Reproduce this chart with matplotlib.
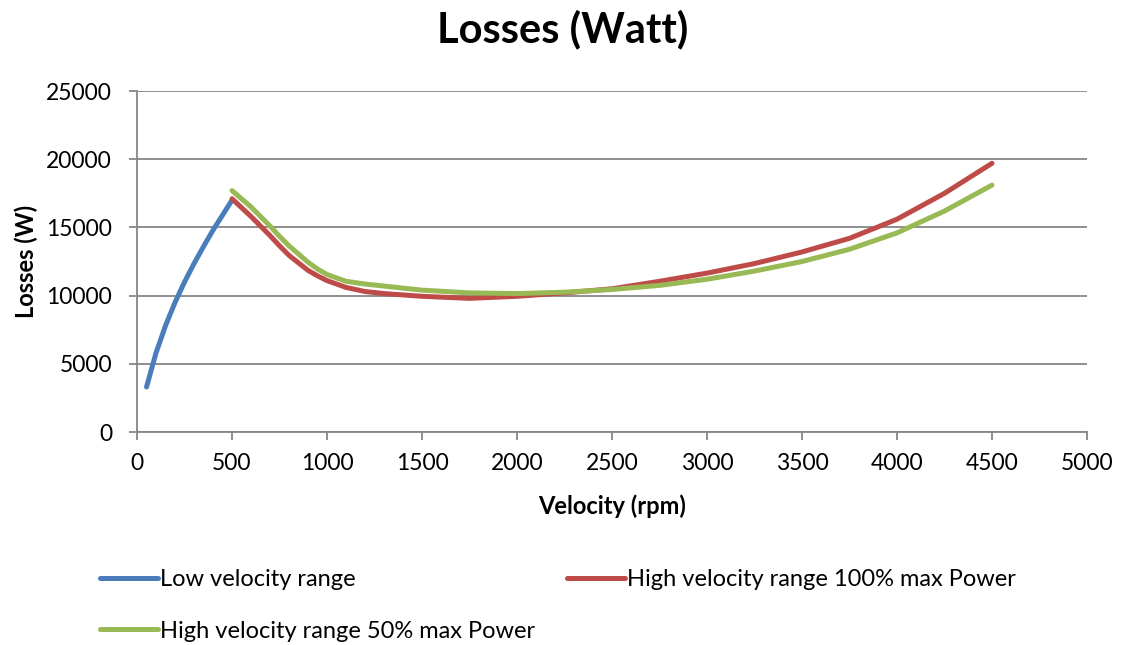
import matplotlib
matplotlib.use("Agg")
import matplotlib.pyplot as plt

plt.rcParams["font.family"] = ["Lato", "DejaVu Sans"]

LOW_RPM = [50, 100, 150, 200, 250, 300, 350, 400, 450, 500]
LOW_LOSS = [3300, 5800, 7800, 9500, 11000, 12350, 13600, 14800, 15900, 17000]

HIGH_RPM = [500, 600, 700, 750, 800, 900, 950, 1000, 1100, 1200, 1300, 1400, 1500,
            1750, 2000, 2250, 2500, 2750, 3000, 3250, 3500, 3750, 4000, 4250, 4500]
HIGH_100 = [17100, 15800, 14400, 13650, 12950, 11850, 11450, 11100, 10600, 10300,
            10150, 10050, 9950, 9800, 9950, 10200, 10500, 11050, 11650, 12350,
            13200, 14200, 15600, 17500, 19700]
HIGH_50 = [17700, 16500, 15100, 14350, 13650, 12450, 11950, 11550, 11050, 10850,
           10700, 10550, 10400, 10200, 10150, 10250, 10450, 10750, 11200, 11800,
           12500, 13400, 14600, 16200, 18100]

LABELS = ["Low velocity range", "High velocity range 100% max Power",
          "High velocity range 50% max Power"]
COLORS = ["#4A7EBB", "#BE4B48", "#98B954"]
GRID = "#868686"

fig = plt.figure(figsize=(11.25, 6.45), dpi=100)
ax = fig.add_axes([0.1218, 0.3302, 0.8444, 0.5287])

lines = []
lines += ax.plot(LOW_RPM, LOW_LOSS, color=COLORS[0], lw=3.6, solid_capstyle="round",
                 solid_joinstyle="round", label=LABELS[0])
lines += ax.plot(HIGH_RPM, HIGH_100, color=COLORS[1], lw=3.6, solid_capstyle="round",
                 solid_joinstyle="round", label=LABELS[1])
lines += ax.plot(HIGH_RPM, HIGH_50, color=COLORS[2], lw=3.6, solid_capstyle="round",
                 solid_joinstyle="round", label=LABELS[2])

ax.set_xlim(0, 5000)
ax.set_ylim(0, 25000)
ax.set_xticks(range(0, 5001, 500))
ax.set_yticks(range(0, 25001, 5000))
ax.yaxis.grid(True, color=GRID, lw=1.3)
ax.set_axisbelow(True)
for s in ["top", "right"]:
    ax.spines[s].set_visible(False)
for s in ["left", "bottom"]:
    ax.spines[s].set_color(GRID)
    ax.spines[s].set_linewidth(1.3)
ax.tick_params(axis="both", colors=GRID, labelcolor="black", labelsize=16.5,
               length=6, width=1.3, direction="out")
ax.tick_params(axis="y", pad=12)
ax.tick_params(axis="x", pad=9)

ax.set_xlabel("Velocity (rpm)", fontsize=17, fontweight="bold", labelpad=15)
ax.set_ylabel("Losses (W)", fontsize=17, fontweight="bold", labelpad=6)
fig.suptitle("Losses (Watt)", fontsize=30, fontweight="bold", y=0.985)

# Excel fills the legend row by row
order = [0, 2, 1]
fig.legend([lines[i] for i in order], [LABELS[i] for i in order],
           loc="upper left", bbox_to_anchor=(0.0889, 0.118), ncol=2, frameon=False,
           fontsize=17, handlelength=2.45, handletextpad=0.1, columnspacing=1.35,
           labelspacing=1.3, borderaxespad=0, borderpad=0)

fig.savefig("out.png", dpi=100)
